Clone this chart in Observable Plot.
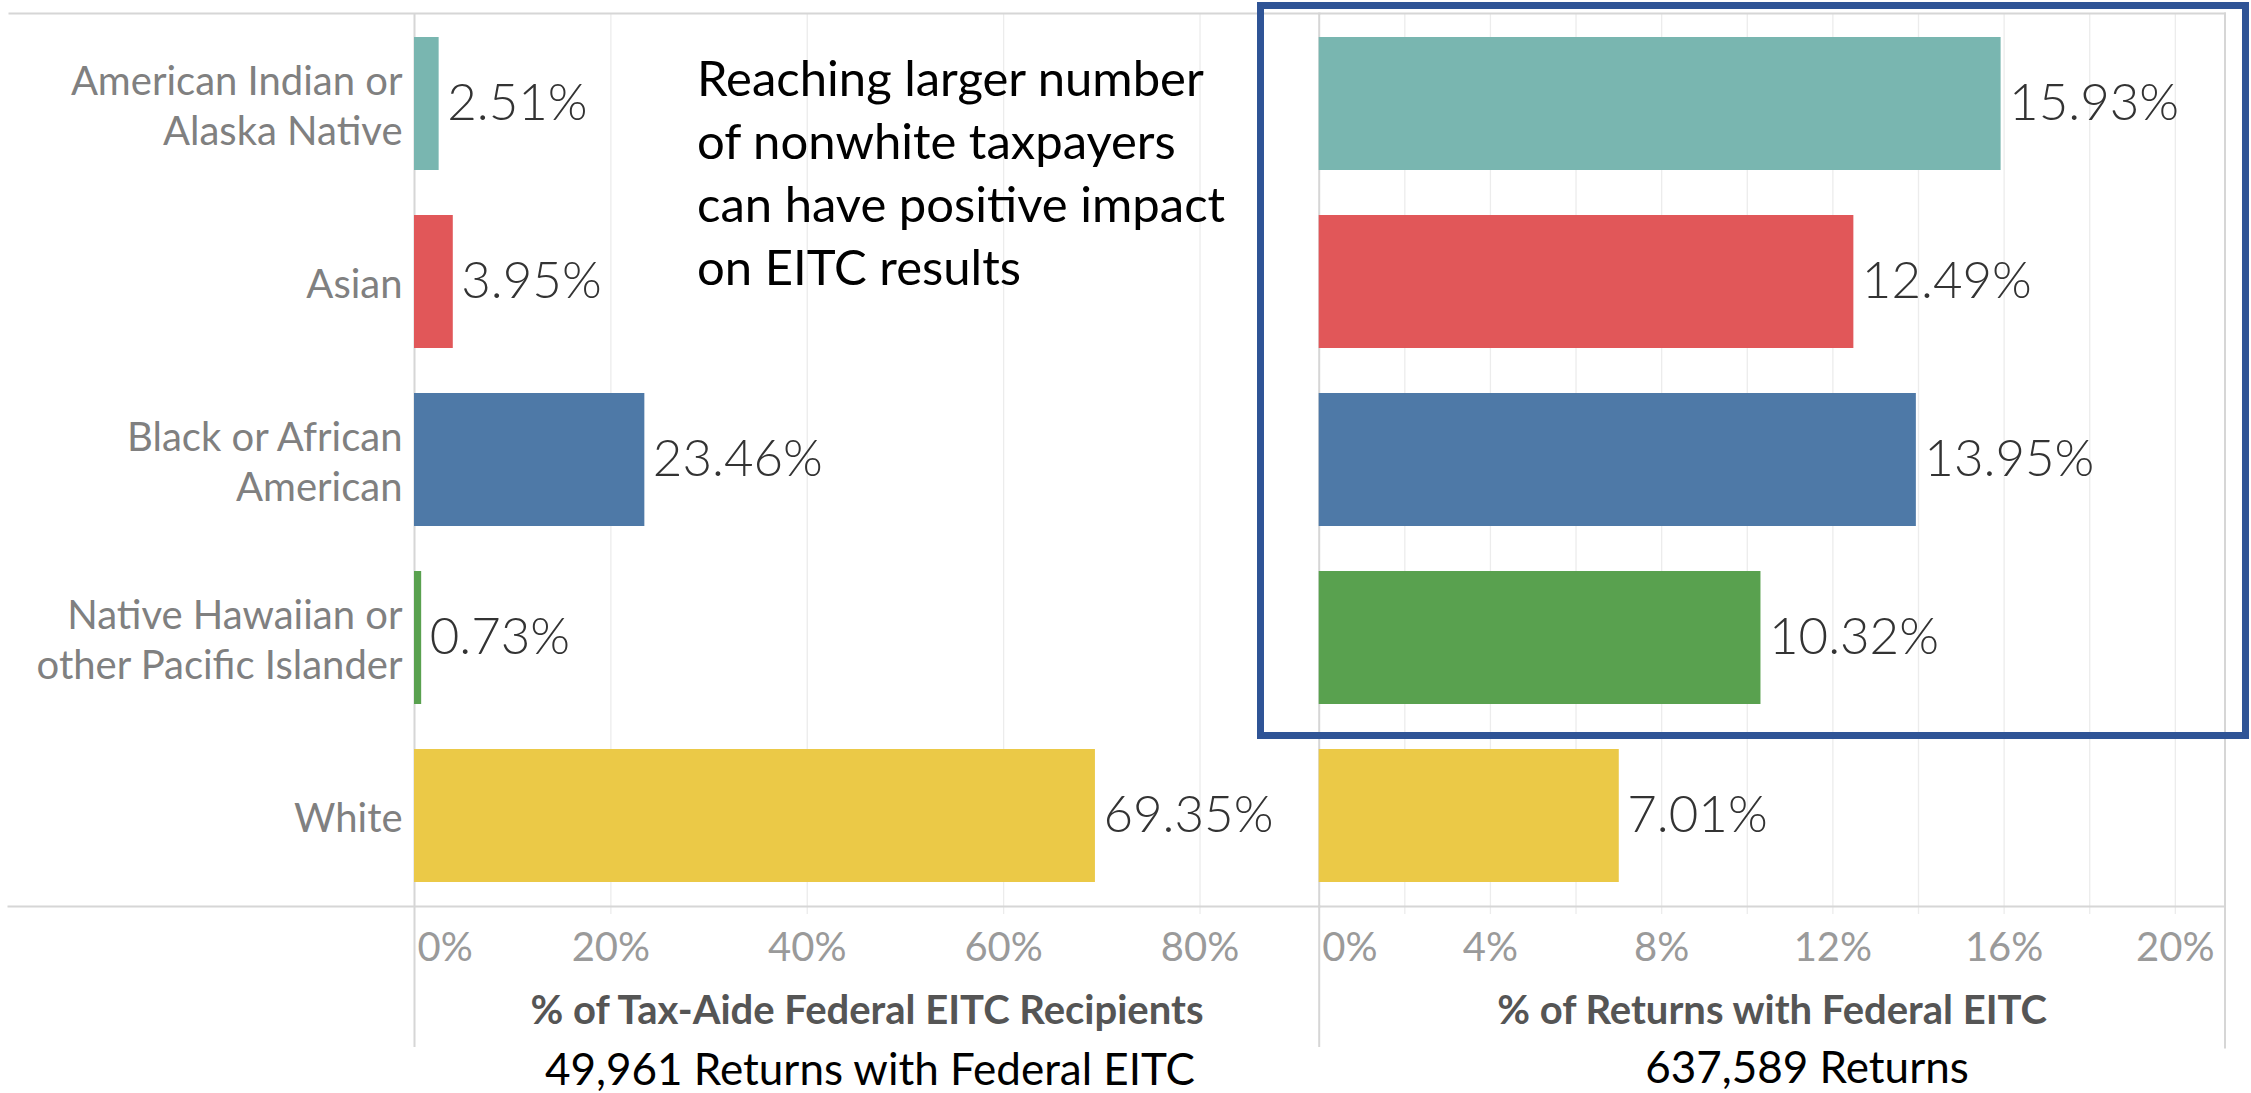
<!DOCTYPE html>
<html>
<head>
<meta charset="utf-8">
<script src="https://cdn.jsdelivr.net/npm/d3@7"></script>
<script src="https://cdn.jsdelivr.net/npm/@observablehq/plot@0.6"></script>
<style>
  html, body { margin: 0; padding: 0; background: #ffffff; }
  #chart { position: relative; width: 2251px; height: 1093px; overflow: hidden; background: #ffffff; font-family: Lato, "Open Sans", sans-serif; }
  #chart svg { position: absolute; top: 0; }
  .note { position: absolute; color: #000; font-family: Lato, "Open Sans", sans-serif; white-space: nowrap; line-height: 1; }
  .caption { position: absolute; color: #000; font-family: Lato, "Open Sans", sans-serif; font-size: 44px; line-height: 1; white-space: nowrap; transform: translate(-50%, -50%); }
  #box { position: absolute; box-sizing: border-box; border: 7.6px solid #2f5496; }
</style>
</head>
<body>
<div id="chart"></div>
<script>
// ---- data ----
const categories = [
  "American Indian or Alaska Native",
  "Asian",
  "Black or African American",
  "Native Hawaiian or other Pacific Islander",
  "White"
];
const categoryLabels = [
  "American Indian or\nAlaska Native",
  "Asian",
  "Black or African\nAmerican",
  "Native Hawaiian or\nother Pacific Islander",
  "White"
];
const taxAideShare = [2.51, 3.95, 23.46, 0.73, 69.35];   // % of Tax-Aide Federal EITC recipients
const returnsShare = [15.93, 12.49, 13.95, 10.32, 7.01]; // % of returns with Federal EITC
const leftTicks = [0, 20, 40, 60, 80];
const rightTicks = [0, 4, 8, 12, 16, 20];
const leftTitle = "% of Tax-Aide Federal EITC Recipients";
const rightTitle = "% of Returns with Federal EITC";
const leftCaption = "49,961 Returns with Federal EITC";
const rightCaption = "637,589 Returns";
const noteLines = [
  "Reaching larger number",
  "of nonwhite taxpayers",
  "can have positive impact",
  "on EITC results"
];

// ---- styles ----
const palette = ["#79b6b0", "#e15759", "#4e79a7", "#59a14f", "#ebc947"];
const lineColor = "#d6d6d6";
const gridColor = "#ececec";
const font = "Lato, 'Open Sans', sans-serif";

const labelOf = new Map(categories.map((c, i) => [c, categoryLabels[i]]));

function panel({values, width, marginLeft, marginRight, domain, ticks, grid, title, titleSize, yAxis, rightEdge}) {
  const data = categories.map((c, i) => ({category: c, value: values[i]}));
  return Plot.plot({
    width,
    height: 1050,
    marginTop: 13,
    marginBottom: 144,
    marginLeft,
    marginRight,
    style: {background: "transparent", overflow: "visible", fontFamily: font},
    x: {domain, axis: null},
    y: yAxis ? {domain: categories, paddingInner: 0.255, paddingOuter: 0.1275, label: null}
             : {domain: categories, paddingInner: 0.255, paddingOuter: 0.1275, axis: null},
    color: {domain: categories, range: palette},
    marks: [
      Plot.gridX(grid, {stroke: gridColor, strokeOpacity: 1, strokeWidth: 1.3, insetBottom: -8}),
      Plot.frame({anchor: "top", stroke: lineColor, strokeWidth: 2, insetLeft: yAxis ? -(marginLeft - 9) : 0}),
      Plot.frame({anchor: "bottom", stroke: lineColor, strokeWidth: 2, insetLeft: yAxis ? -(marginLeft - 8) : 0}),
      Plot.ruleX([0], {stroke: lineColor, strokeWidth: 2, insetBottom: -141}),
      rightEdge ? Plot.frame({anchor: "right", stroke: lineColor, strokeWidth: 2, insetBottom: -141}) : null,
      Plot.barX(data, {x: "value", y: "category", fill: "category"}),
      Plot.text(data, {
        x: "value", y: "category", text: d => d.value.toFixed(2) + "%",
        dx: 8, textAnchor: "start", fontSize: 51, fontWeight: 300, fill: "#333333", fontFamily: font
      }),
      yAxis ? Plot.axisY({
        tickSize: 0, tickPadding: 12, fontSize: 40, lineHeight: 1.25, label: null,
        color: "#808080", tickFormat: d => labelOf.get(d), fontFamily: font
      }) : null,
      Plot.text(ticks.filter(t => t === 0), {
        x: d => d, text: d => d + "%", frameAnchor: "bottom", dy: 42, dx: 3,
        textAnchor: "start", lineAnchor: "middle", fontSize: 40, fill: "#9a9a9a", fontFamily: font
      }),
      Plot.text(ticks.filter(t => t !== 0), {
        x: d => d, text: d => d + "%", frameAnchor: "bottom", dy: 42,
        textAnchor: "middle", lineAnchor: "middle", fontSize: 40, fill: "#9a9a9a", fontFamily: font
      }),
      Plot.text([title], {
        frameAnchor: "bottom", dy: 105, lineAnchor: "middle",
        fontSize: titleSize, fontWeight: "bold", fill: "#555555", fontFamily: font
      })
    ]
  });
}

const chart = document.getElementById("chart");

const left = panel({
  values: taxAideShare, width: 1319, marginLeft: 414, marginRight: 0,
  domain: [0, 92.17], ticks: leftTicks, grid: [20, 40, 60, 80],
  title: leftTitle, titleSize: 40, yAxis: true, rightEdge: false
});
left.style.left = "0px";
chart.appendChild(left);

const right = panel({
  values: returnsShare, width: 951, marginLeft: 18.7, marginRight: 26.5,
  domain: [0, 21.16], ticks: rightTicks, grid: d3.range(2, 21, 2),
  title: rightTitle, titleSize: 40, yAxis: false, rightEdge: true
});
right.style.left = "1300px";
chart.appendChild(right);

// highlight box around the nonwhite groups
const box = document.createElement("div");
box.id = "box";
Object.assign(box.style, {left: "1257px", top: "2px", width: "992px", height: "737px"});
chart.appendChild(box);

// annotation
noteLines.forEach((line, i) => {
  const d = document.createElement("div");
  d.className = "note";
  d.textContent = line;
  Object.assign(d.style, {left: "697px", top: (77 + i * 63) + "px", fontSize: "49px", transform: "translateY(-50%)"});
  chart.appendChild(d);
});

// captions under each axis
[[leftCaption, 870, 1068], [rightCaption, 1807, 1066]].forEach(([t, x, y]) => {
  const d = document.createElement("div");
  d.className = "caption";
  d.textContent = t;
  d.style.left = x + "px";
  d.style.top = y + "px";
  chart.appendChild(d);
});
</script>
</body>
</html>
